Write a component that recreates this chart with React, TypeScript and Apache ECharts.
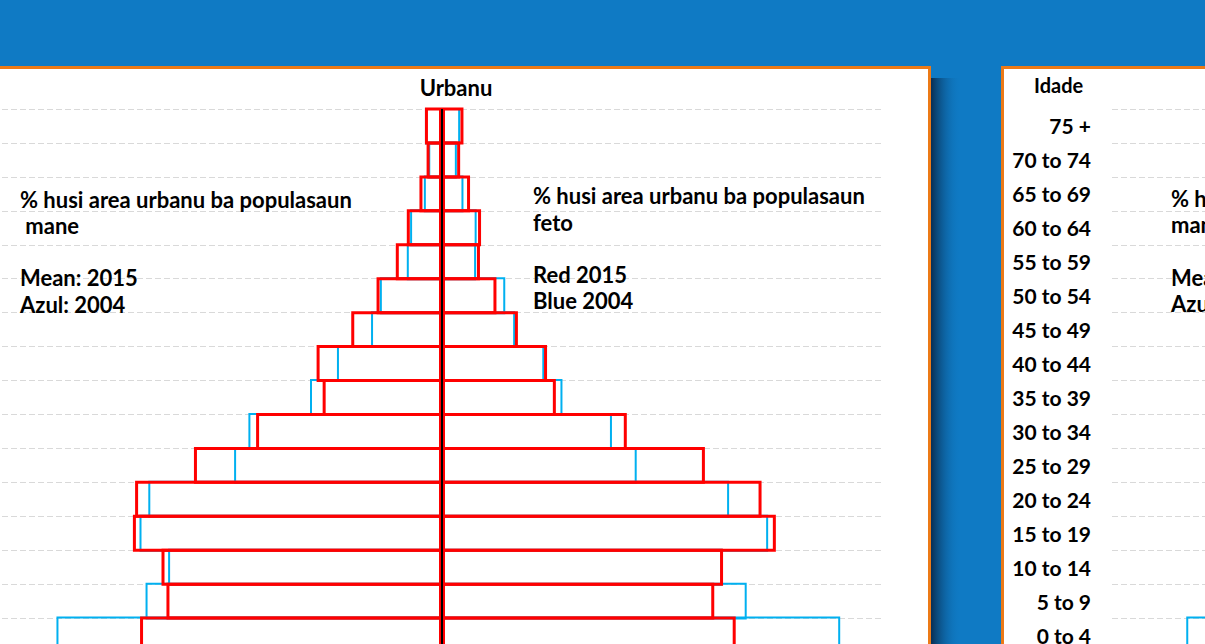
import React, { useEffect, useRef } from "react";
import * as echarts from "echarts";

// Age groups, bottom (youngest) to top (oldest)
const ageGroups = [
  "0 to 4", "5 to 9", "10 to 14", "15 to 19", "20 to 24", "25 to 29",
  "30 to 34", "35 to 39", "40 to 44", "45 to 49", "50 to 54", "55 to 59",
  "60 to 64", "65 to 69", "70 to 74", "75 +",
];

// Urban population, %
const maleUrban2015 = [5.49, 5.01, 5.10, 5.62, 5.58, 4.51, 3.38, 2.17, 2.28, 1.65, 1.19, 0.84, 0.64, 0.41, 0.28, 0.31];
const maleUrban2004 = [7.01, 5.39, 4.98, 5.50, 5.34, 3.78, 3.52, 2.40, 1.91, 1.29, 1.13, 0.64, 0.58, 0.33, 0.25, 0.31];
const femaleUrban2015 = [5.34, 4.95, 5.11, 6.07, 5.81, 4.78, 3.36, 2.07, 1.91, 1.38, 0.99, 0.69, 0.71, 0.51, 0.33, 0.39];
const femaleUrban2004 = [7.24, 5.54, 5.10, 5.93, 5.22, 3.54, 3.09, 2.19, 1.86, 1.33, 1.15, 0.62, 0.63, 0.39, 0.27, 0.33];

// Rural panel (only the visible bar can be read)
const maleRural2004 = [6.65, null, null, null, null, null, null, null, null, null, null, null, null, null, null, null];

const axisMax = 8;

const urbanTitle = "Urbanu";
const ageTitle = "Idade";
const maleNote = ["% husi area urbanu ba populasaun", " mane"];
const maleLegend = ["Mean: 2015", "Azul: 2004"];
const femaleNote = ["% husi area urbanu ba populasaun", "feto"];
const femaleLegend = ["Red 2015", "Blue 2004"];
const ruralNote = ["% husi area rural ba populasaun", "mane"];

const BG = "#0F7AC4";
const ORANGE = "#EC7A17";
const RED = "#FF0000";
const CYAN = "#00B0F0";
const FONT = "Lato";

const GRID_TOP = 109;
const GRID_HEIGHT = 543;

export default function App() {
  const ref = useRef<HTMLDivElement>(null);
  useEffect(() => {
    if (!ref.current) return;
    const chart = echarts.init(ref.current, null, { renderer: "svg" });

    const txt = (text: string, x: number, y: number, size = 22, weight: any = "bold") => ({
      type: "text",
      x,
      y,
      z: 10,
      style: {
        text,
        fill: "#000",
        fontSize: size,
        fontWeight: weight,
        fontFamily: FONT,
        verticalAlign: "middle",
        align: "left",
      },
    });

    const outline = (color: string, width: number) => ({
      color: "rgba(0,0,0,0)",
      borderColor: color,
      borderWidth: width,
    });

    const splitLine = {
      show: true,
      lineStyle: { color: "#D9D9D9", width: 1, type: [6, 3] },
    };

    // ECharts insets a bar's border inside the bar; widen bars so that the
    // red outline sits on the band boundaries (rows share one outline).
    const band = GRID_HEIGHT / ageGroups.length;
    const barCommon = {
      type: "bar",
      barWidth: band + 3,
      barGap: "-100%",
    };

    chart.setOption({
      animation: false,
      backgroundColor: BG,
      title: [
        {
          text: urbanTitle,
          left: 451,
          top: 71,
          textAlign: "center",
          textStyle: { fontSize: 22, fontWeight: "bold", fontFamily: FONT, color: "#000" },
        },
      ],
      graphic: [
        {
          type: "rect",
          z: -5,
          shape: { x: 931, y: 78, width: 30, height: 600 },
          style: {
            fill: new echarts.graphic.LinearGradient(0, 0, 1, 0, [
              { offset: 0, color: "rgba(8,38,70,0.9)" },
              { offset: 1, color: "rgba(15,122,196,0)" },
            ]),
          },
        },
        {
          type: "rect",
          z: -4,
          shape: { x: -10, y: 67.5, width: 939.5, height: 620 },
          style: { fill: "#fff", stroke: ORANGE, lineWidth: 3 },
        },
        {
          type: "rect",
          z: -4,
          shape: { x: 1002.5, y: 67.5, width: 400, height: 620 },
          style: { fill: "#fff", stroke: ORANGE, lineWidth: 3 },
        },
        txt(maleNote[0], 20, 199),
        txt(maleNote[1], 20, 225),
        txt(maleLegend[0], 20, 277),
        txt(maleLegend[1], 20, 304),
        txt(femaleNote[0], 533, 195),
        txt(femaleNote[1], 533, 222),
        txt(femaleLegend[0], 533, 274),
        txt(femaleLegend[1], 533, 300),
        txt(ruralNote[0], 1171, 198),
        txt(ruralNote[1], 1171, 224),
        txt(maleLegend[0], 1171, 277),
        txt(maleLegend[1], 1171, 303),
        txt(ageTitle, 1034, 85, 20),
      ],
      grid: [
        { left: 2, width: 880, top: GRID_TOP, height: GRID_HEIGHT, outerBoundsMode: "none" },
        { left: 1112, width: 880, top: GRID_TOP, height: GRID_HEIGHT, outerBoundsMode: "none" },
      ],
      xAxis: [
        { type: "value", gridIndex: 0, min: -axisMax, max: axisMax, show: false },
        { type: "value", gridIndex: 1, min: -axisMax, max: axisMax, show: false },
      ],
      yAxis: [
        {
          type: "category",
          gridIndex: 0,
          data: ageGroups,
          axisLine: { show: false },
          axisTick: { show: false },
          axisLabel: { show: false },
          splitLine,
        },
        {
          type: "category",
          gridIndex: 1,
          data: ageGroups,
          axisLine: { show: false },
          axisTick: { show: false },
          axisLabel: {
            show: true,
            margin: 21,
            fontSize: 21,
            fontWeight: "bold",
            fontFamily: FONT,
            color: "#000",
            padding: [0, 0, 3, 0],
          },
          splitLine,
        },
      ],
      series: [
        {
          ...barCommon,
          name: "Mane 2004",
          xAxisIndex: 0,
          yAxisIndex: 0,
          data: maleUrban2004.map((v) => -v),
          itemStyle: outline(CYAN, 2),
        },
        {
          ...barCommon,
          name: "Feto 2004",
          xAxisIndex: 0,
          yAxisIndex: 0,
          data: femaleUrban2004,
          itemStyle: outline(CYAN, 2),
        },
        {
          ...barCommon,
          name: "Mane 2015",
          xAxisIndex: 0,
          yAxisIndex: 0,
          data: maleUrban2015.map((v) => -v),
          itemStyle: outline(RED, 3),
        },
        {
          ...barCommon,
          name: "Feto 2015",
          xAxisIndex: 0,
          yAxisIndex: 0,
          data: femaleUrban2015,
          itemStyle: outline(RED, 3),
          markLine: {
            silent: true,
            symbol: "none",
            z: 5,
            label: { show: false },
            lineStyle: { color: "#000", width: 2, type: "solid" },
            data: [{ xAxis: 0 }],
          },
        },
        {
          ...barCommon,
          name: "Rural Mane 2004",
          xAxisIndex: 1,
          yAxisIndex: 1,
          data: maleRural2004.map((v) => (v == null ? "-" : -v)),
          itemStyle: outline(CYAN, 2),
        },
      ],
    });
    return () => chart.dispose();
  }, []);

  return (
    <div
      ref={ref}
      style={{ position: "fixed", left: 0, top: 0, width: 1205, height: 644 }}
    />
  );
}
